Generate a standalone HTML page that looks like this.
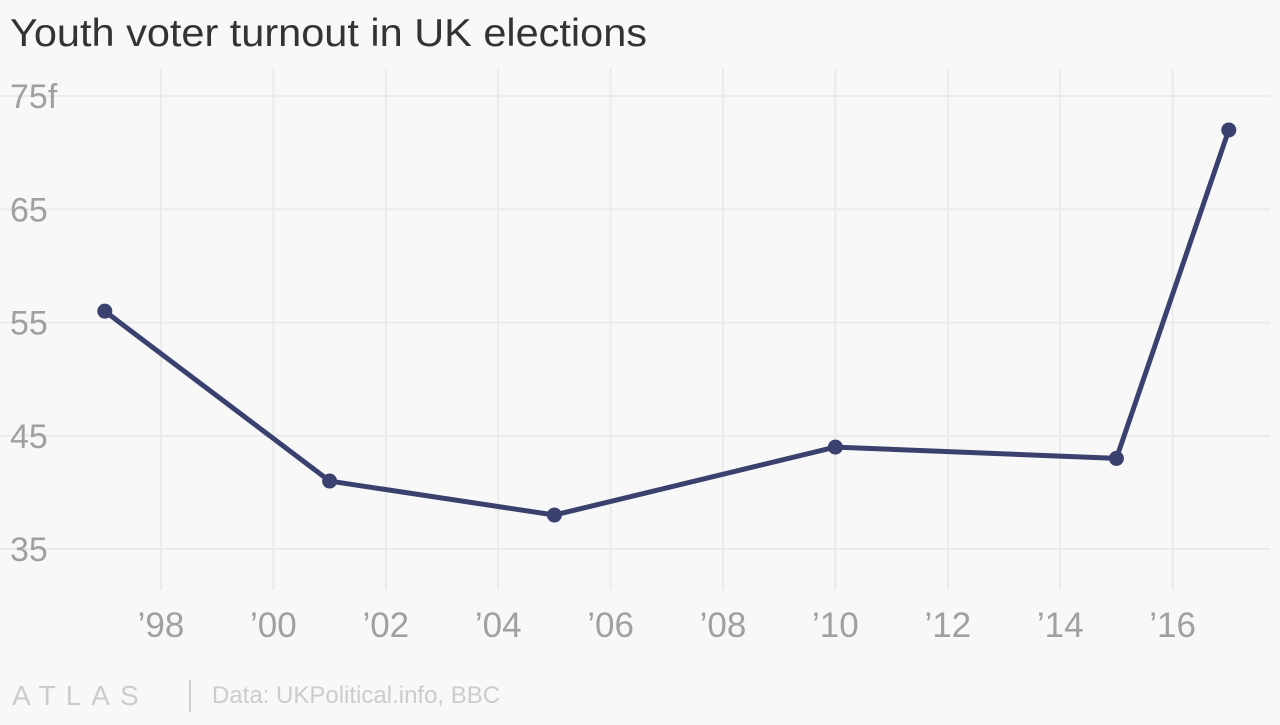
<!DOCTYPE html>
<html><head><meta charset="utf-8"><style>
body{margin:0;background:#f8f8f8;width:1280px;height:720px;overflow:hidden;font-family:"Liberation Sans",sans-serif}
</style></head><body>
<svg width="1280" height="720">
<text x="10" y="46" font-size="39" fill="#333" textLength="637" lengthAdjust="spacingAndGlyphs">Youth voter turnout in UK elections</text>
<g id="grid"></g><g id="ticks"></g><g id="series"></g>
<text x="12" y="705" font-size="28" fill="#ccc" letter-spacing="10">ATLAS</text>
<line x1="190" y1="680" x2="190" y2="712" stroke="#ccc" stroke-width="2"/>
<text x="212" y="703" font-size="24" fill="#ccc">Data: UKPolitical.info, BBC</text>
</svg>
<script>
const years=[1997,2001,2005,2010,2015,2017];
const turnout=[56,41,38,44,43,72];
const yTicks=[35,45,55,65,75];
const yTickLabels=["35","45","55","65","75f"];
const xTicks=[1998,2000,2002,2004,2006,2008,2010,2012,2014,2016];
const xTickLabels=["’98","’00","’02","’04","’06","’08","’10","’12","’14","’16"];
const NS="http://www.w3.org/2000/svg";
const x=v=>161+(v-1998)*56.2;
const y=v=>96+(75-v)*11.325;
function mk(tag,attrs,parent){const e=document.createElementNS(NS,tag);for(const k in attrs)e.setAttribute(k,attrs[k]);document.getElementById(parent).appendChild(e);return e;}
yTicks.forEach((t,i)=>{
 const l=mk('line',{x1:0,x2:1270,y1:y(t),y2:y(t),stroke:'#ebebeb','stroke-width':2},'grid');
 
 
 const tx=mk('text',{x:10,y:y(t)+12,'font-size':34,fill:'#a0a0a0'},'ticks');
 tx.textContent=yTickLabels[i];
 
 
});
xTicks.forEach((t,i)=>{
 const l=mk('line',{x1:x(t),x2:x(t),y1:68,y2:590,stroke:'#ebebeb','stroke-width':2},'grid');
 
 
 const tx=mk('text',{x:x(t),y:637,'font-size':35,fill:'#a0a0a0','text-anchor':'middle'},'ticks');
 tx.textContent=xTickLabels[i];
 
 
});
const p=mk('polyline',{points:years.map((yr,i)=>x(yr)+','+y(turnout[i])).join(' '),fill:'none',stroke:'#3b416e','stroke-width':5,'stroke-linejoin':'round'},'series');


years.forEach((yr,i)=>{
 const c=mk('circle',{cx:x(yr),cy:y(turnout[i]),r:7.5,fill:'#3b416e'},'series');
 
 
});
</script>
</body></html>
